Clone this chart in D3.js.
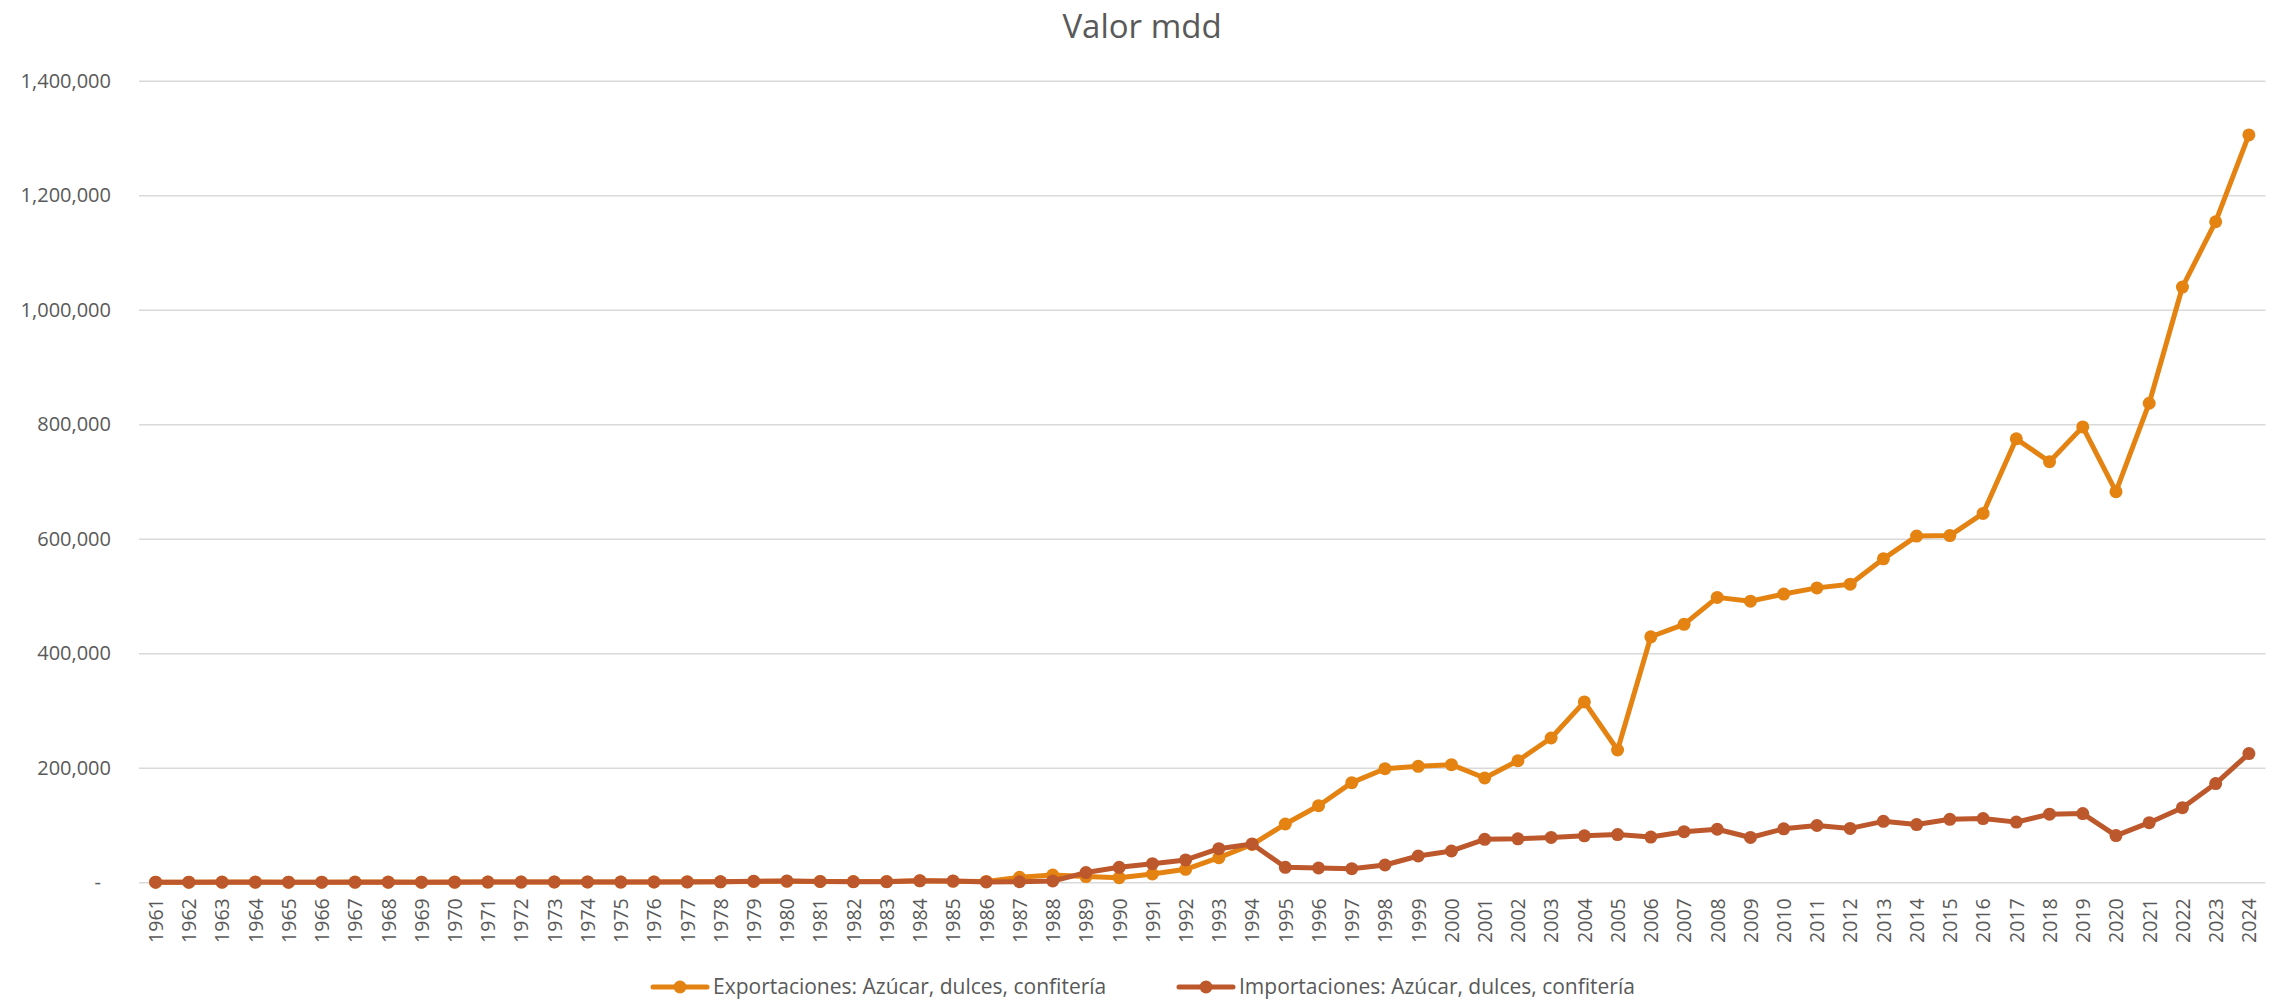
<!DOCTYPE html>
<html>
<head>
<meta charset="utf-8">
<script src="https://cdn.jsdelivr.net/npm/d3@7"></script>
<style>
  html, body { margin: 0; padding: 0; background: #ffffff; }
  svg { display: block; font-family: "Open Sans", "Noto Sans", sans-serif; }
</style>
</head>
<body>
<svg id="chart" width="2284" height="1000"></svg>
<script>
// Years on the category axis
const years = [
  1961, 1962, 1963, 1964, 1965, 1966, 1967, 1968, 1969, 1970,
  1971, 1972, 1973, 1974, 1975, 1976, 1977, 1978, 1979, 1980,
  1981, 1982, 1983, 1984, 1985, 1986, 1987, 1988, 1989, 1990,
  1991, 1992, 1993, 1994, 1995, 1996, 1997, 1998, 1999, 2000,
  2001, 2002, 2003, 2004, 2005, 2006, 2007, 2008, 2009, 2010,
  2011, 2012, 2013, 2014, 2015, 2016, 2017, 2018, 2019, 2020,
  2021, 2022, 2023, 2024
];

// Exportaciones: Azúcar, dulces, confitería (valor, mdd)
const exportaciones = [
  300, 300, 400, 400, 300, 300, 400, 400, 300, 400,
  500, 500, 600, 700, 500, 600, 800, 1000, 1500, 2000,
  1500, 1200, 1300, 2500, 2000, 1500, 8700, 12700, 10000, 8000,
  14500, 22700, 43000, 66000, 101800, 133800, 174000, 198400, 202600, 205400,
  182200, 212300, 252000, 315100, 231100, 428800, 450500, 497600, 491000, 503400,
  514200, 520700, 564900, 604700, 605500, 644300, 774500, 734600, 795400, 682300,
  836700, 1039600, 1153700, 1305300
];

// Importaciones: Azúcar, dulces, confitería (valor, mdd)
const importaciones = [
  200, 200, 300, 300, 200, 200, 300, 300, 200, 300,
  400, 400, 500, 600, 400, 500, 700, 900, 1800, 2200,
  1400, 1000, 1100, 2800, 2200, 600, 1000, 2300, 17000, 26200,
  32500, 39000, 58700, 67000, 26200, 25000, 23800, 30200, 45900, 54700,
  75100, 75900, 78300, 81200, 83300, 79000, 88400, 92700, 78300, 93400,
  99200, 94100, 106500, 100800, 110000, 111300, 105100, 119000, 120000, 81600,
  104100, 130300, 172400, 224800
];

// Value axis ticks
const yTicks = [0, 200000, 400000, 600000, 800000, 1000000, 1200000, 1400000];

const seriesNames = [
  "Exportaciones: Azúcar, dulces, confitería",
  "Importaciones: Azúcar, dulces, confitería"
];
const seriesColors = ["#E48312", "#BD582C"];

const chartTitle = "Valor mdd";

const W = 2284, H = 1000;
const plot = { left: 139, right: 2265.5, top: 80.7, bottom: 882.3 };
const textColor = "#595959";
const fontStack = '"Open Sans", "Noto Sans", sans-serif';

const svg = d3.select("#chart");

const x = d3.scalePoint()
  .domain(years)
  .range([plot.left, plot.right])
  .padding(0.5);

const y = d3.scaleLinear()
  .domain([0, 1400000])
  .range([plot.bottom, plot.top]);

// Title
svg.append("text")
  .attr("x", W / 2)
  .attr("y", 38)
  .attr("text-anchor", "middle")
  .attr("fill", textColor)
  .style("font-size", "33px")
  .text(chartTitle);

// Horizontal gridlines + value labels
const yAxis = d3.axisLeft(y)
  .tickValues(yTicks)
  .tickSize(-(plot.right - plot.left))
  .tickPadding(28)
  .tickFormat(d => d === 0 ? "-" : d3.format(",")(d));

const gy = svg.append("g")
  .attr("transform", `translate(${plot.left},0)`)
  .call(yAxis)
  .attr("font-family", fontStack);
gy.select(".domain").remove();
gy.selectAll(".tick line")
  .attr("stroke", "#D9D9D9")
  .attr("stroke-width", 1.6);
gy.selectAll(".tick text")
  .attr("fill", textColor)
  .style("font-size", "20px");
gy.selectAll(".tick text")
  .filter(d => d === 0)
  .attr("x", -38);

// Category labels, rotated
const xAxis = d3.axisBottom(x).tickSize(0).tickPadding(0);
const gx = svg.append("g")
  .attr("transform", `translate(0,${plot.bottom})`)
  .call(xAxis)
  .attr("font-family", fontStack);
gx.select(".domain").remove();
gx.selectAll(".tick text")
  .attr("transform", "rotate(-90)")
  .attr("x", -16)
  .attr("y", 0)
  .attr("dy", "0.35em")
  .attr("text-anchor", "end")
  .attr("fill", textColor)
  .style("font-size", "19.5px");

// Series lines with markers
const series = [exportaciones, importaciones];
const line = d3.line()
  .x((d, i) => x(years[i]))
  .y(d => y(d));

series.forEach((vals, s) => {
  const g = svg.append("g").attr("class", "series");
  g.append("path")
    .datum(vals)
    .attr("fill", "none")
    .attr("stroke", seriesColors[s])
    .attr("stroke-width", 5)
    .attr("stroke-linejoin", "round")
    .attr("d", line);
  g.selectAll("circle")
    .data(vals)
    .join("circle")
    .attr("cx", (d, i) => x(years[i]))
    .attr("cy", d => y(d))
    .attr("r", 6.5)
    .attr("fill", seriesColors[s]);
});

// Legend
const legendY = 987;
const legendX = [653, 1179];
seriesNames.forEach((name, s) => {
  const g = svg.append("g").attr("transform", `translate(${legendX[s]},${legendY})`);
  g.append("line")
    .attr("x1", 0).attr("x2", 54)
    .attr("y1", 0).attr("y2", 0)
    .attr("stroke", seriesColors[s])
    .attr("stroke-width", 5)
    .attr("stroke-linecap", "round");
  g.append("circle")
    .attr("cx", 27).attr("cy", 0).attr("r", 6.5)
    .attr("fill", seriesColors[s]);
  g.append("text")
    .attr("x", 60)
    .attr("y", 0)
    .attr("dy", "0.35em")
    .attr("fill", textColor)
    .style("font-size", "21px")
    .text(name);
});
</script>
</body>
</html>
